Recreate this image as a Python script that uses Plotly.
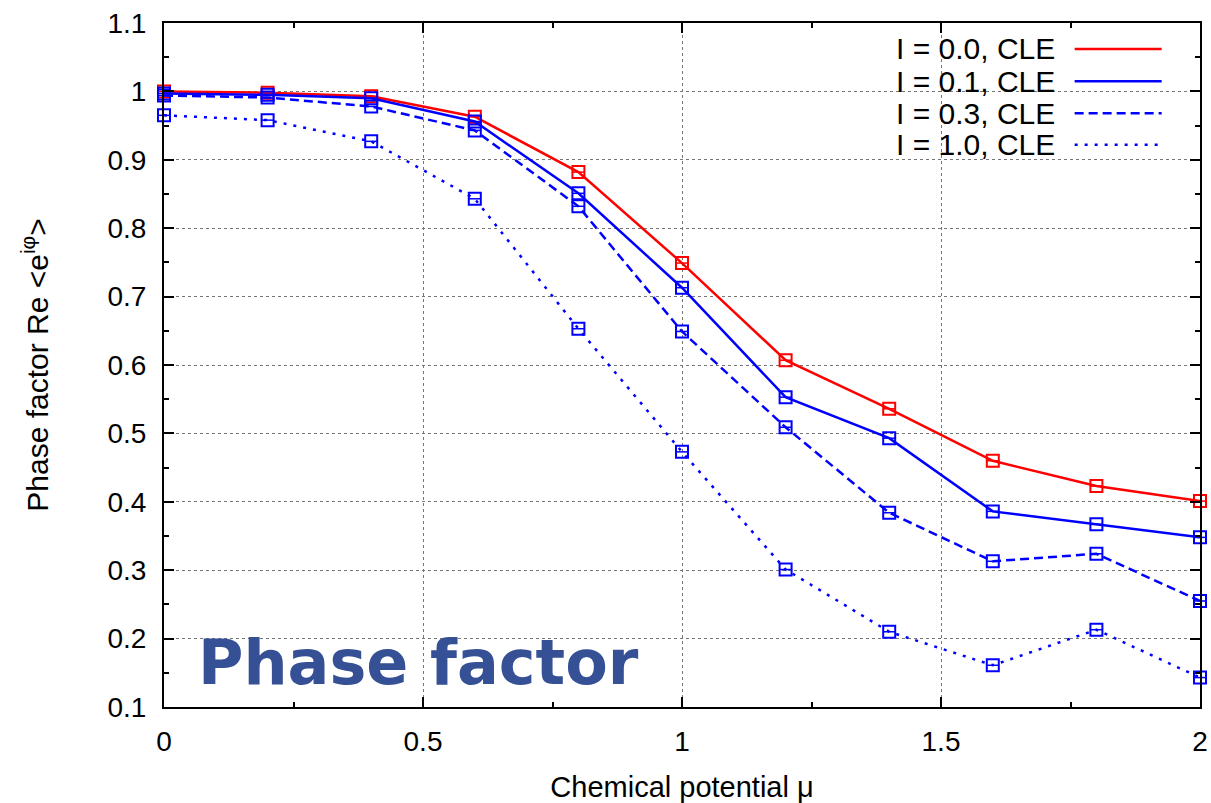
import plotly.graph_objects as go

mu = [0.0, 0.2, 0.4, 0.6, 0.8, 1.0, 1.2, 1.4, 1.6, 1.8, 2.0]
I00 = [1.000, 0.998, 0.993, 0.963, 0.882, 0.749, 0.607, 0.536, 0.460, 0.423, 0.401]
I01 = [0.997, 0.995, 0.990, 0.956, 0.851, 0.713, 0.553, 0.493, 0.386, 0.367, 0.348]
I03 = [0.994, 0.991, 0.978, 0.943, 0.832, 0.649, 0.509, 0.384, 0.313, 0.324, 0.255]
I10 = [0.965, 0.958, 0.927, 0.843, 0.653, 0.473, 0.301, 0.210, 0.161, 0.213, 0.143]

names = ["I = 0.0, CLE", "I = 0.1, CLE", "I = 0.3, CLE", "I = 1.0, CLE"]
series = [I00, I01, I03, I10]
colors = ["#ff0000", "#0000ff", "#0000ff", "#0000ff"]
dashes = ["solid", "solid", "9px,5px", "3px,7px"]

fig = go.Figure()
for name, ys, c, d in zip(names, series, colors, dashes):
    fig.add_trace(go.Scatter(
        x=mu, y=ys, name=name, mode="lines+markers",
        line=dict(color=c, width=2.5, dash=d),
        marker=dict(symbol="square-open", size=12, color=c, line=dict(color=c, width=2)),
        showlegend=False, cliponaxis=False))
    fig.add_trace(go.Scatter(
        x=mu, y=ys, mode="markers", hoverinfo="skip", showlegend=False,
        marker=dict(symbol="line-ew", size=9, color=c, line=dict(color=c, width=1.5)),
        cliponaxis=False))

FONT = "Liberation Sans, Arial, sans-serif"

# custom gnuplot-style key
shapes = [dict(type="rect", xref="paper", yref="paper", x0=0.643, x1=0.986, y0=0.808, y1=0.997,
               fillcolor="white", line=dict(width=0), layer="between")]
annotations = []
rows = [0.962, 0.915, 0.868, 0.822]
for name, c, d, ry in zip(names, colors, dashes, rows):
    annotations.append(dict(text=name, xref="paper", yref="paper", x=0.862, y=ry,
                            xanchor="right", yanchor="middle", showarrow=False,
                            font=dict(family=FONT, size=30, color="black")))
    shapes.append(dict(type="line", xref="paper", yref="paper", x0=0.879, x1=0.963, y0=ry, y1=ry,
                       line=dict(color=c, width=2.5, dash=d)))

annotations.append(dict(text="<b>Phase factor</b>", xref="paper", yref="paper", x=0.031, y=0.065,
                        xanchor="left", yanchor="middle", showarrow=False,
                        font=dict(family="DejaVu Sans", size=62, color="#355094")))

axis_common = dict(showline=True, linecolor="black", linewidth=2, mirror="allticks",
                   ticks="inside", ticklen=10, tickwidth=1.5, tickcolor="black",
                   showgrid=True, gridcolor="#777777", gridwidth=1, griddash="dot",
                   zeroline=False, automargin=False,
                   tickfont=dict(family=FONT, size=28, color="black"))

fig.update_xaxes(range=[0, 2], tickmode="array", tickvals=[0, 0.5, 1, 1.5, 2],
                 ticktext=["0", "0.5", "1", "1.5", "2"],
                 minor=dict(dtick=0.25, tick0=0, ticks="inside", ticklen=5, tickcolor="black", showgrid=False),
                 title=dict(text="Chemical potential μ", font=dict(family=FONT, size=29, color="black"), standoff=22),
                 ticklabelstandoff=8, **axis_common)
fig.update_yaxes(range=[0.1, 1.1], tickmode="array",
                 tickvals=[0.1, 0.2, 0.3, 0.4, 0.5, 0.6, 0.7, 0.8, 0.9, 1.0, 1.1],
                 ticktext=["0.1", "0.2", "0.3", "0.4", "0.5", "0.6", "0.7", "0.8", "0.9", "1", "1.1"],
                 minor=dict(dtick=0.05, tick0=0.1, ticks="inside", ticklen=5, tickcolor="black", showgrid=False),
                 title=dict(text="Phase factor Re &lt;e<sup>iφ</sup>&gt;", font=dict(family=FONT, size=30, color="black"), standoff=50),
                 ticklabelstandoff=10, **axis_common)

fig.update_layout(width=1211, height=803, margin=dict(l=164, r=11, t=23, b=96),
                  paper_bgcolor="white", plot_bgcolor="white",
                  shapes=shapes, annotations=annotations, showlegend=False)

fig.write_html("out.html")
